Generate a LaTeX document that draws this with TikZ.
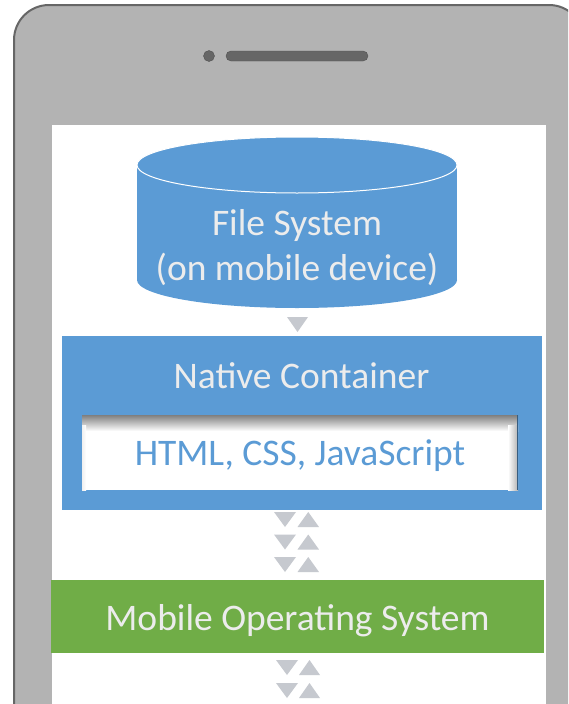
\documentclass[tikz,border=0pt]{standalone}
\usepackage{fontspec}
\setmainfont{Carlito}

\definecolor{phonegray}{RGB}{179,179,179}
\definecolor{phoneline}{RGB}{102,102,102}
\definecolor{boxblue}{RGB}{91,155,213}
\definecolor{boxgreen}{RGB}{112,173,71}
\definecolor{arrowgray}{RGB}{198,201,207}
\definecolor{lighttext}{RGB}{236,236,236}

\begin{document}
\begin{tikzpicture}[x=1pt, y=-1pt,
          layerbox/.style={rectangle, inner sep=0pt},
          boxtext/.style={text=lighttext, inner sep=0pt,
            font=\fontsize{37.5}{45}\selectfont, align=center},
          arrowtri/.style={fill=arrowgray}]

        \clip (0,0) rectangle (568,704);

        % phone frame
        \draw[draw=phoneline, line width=2pt, fill=phonegray, rounded corners=35pt]
          (14,5) rectangle (584,760);
        \filldraw[fill=phoneline, draw=phoneline!80!black] (209,56) circle (5.5);
        \filldraw[fill=phoneline, draw=phoneline!80!black, rounded corners=5pt]
          (226,51) rectangle (368,61);
        \fill[white] (52,125) rectangle (546,710);

        % file system
        \fill[boxblue] (137,165) rectangle (457,280);
        \fill[boxblue] (297,280) ellipse [x radius=160, y radius=28];
        \filldraw[fill=boxblue, draw=white, line width=1pt]
          (297,165) ellipse [x radius=160, y radius=28];
        \node[boxtext] (fs) at (297,248) {File System\\(on mobile device)};

        \fill[arrowtri] (287,317) -- (308,317) -- (297.5,332) -- cycle;

        % native container
        \node[layerbox, fill=boxblue, minimum width=480pt, minimum height=174pt]
          (nc) at (302,423) {};
        \node[boxtext, anchor=base] (ncl) at (301.5,388) {Native Container};

        \node[layerbox, fill=white, minimum width=436pt, minimum height=75pt]
          (web) at (300,452.5) {};
        \shade[top color=black!50, bottom color=white] (82,415) rectangle (518,431);
        \shade[left color=white, right color=black!30] (508,425) rectangle (518,490);
        \shade[left color=black!6, right color=white] (82,425) rectangle (86,490);
        \draw[boxblue!60!black, line width=0.6pt] (517.7,415) -- (517.7,490);
        \node[boxtext, text=boxblue, anchor=base] (webl) at (300,465) {HTML, CSS, JavaScript};

        \foreach \y in {512,534.5,557} {
          \fill[arrowtri] (274,\y) -- (296,\y) -- (285,\y+15) -- cycle;
          \fill[arrowtri] (297.5,\y+15) -- (319,\y+15) -- (308.25,\y) -- cycle;
        }

        % mobile os
        \node[layerbox, fill=boxgreen, minimum width=493pt, minimum height=73pt]
          (mos) at (297.5,616.5) {};
        \node[boxtext, anchor=base] (mosl) at (297.5,630) {Mobile Operating System};

        \foreach \y in {660,683} {
          \fill[arrowtri] (276,\y) -- (298,\y) -- (287,\y+15) -- cycle;
          \fill[arrowtri] (299,\y+15) -- (320,\y+15) -- (309.5,\y) -- cycle;
        }

      \end{tikzpicture}
\end{document}
